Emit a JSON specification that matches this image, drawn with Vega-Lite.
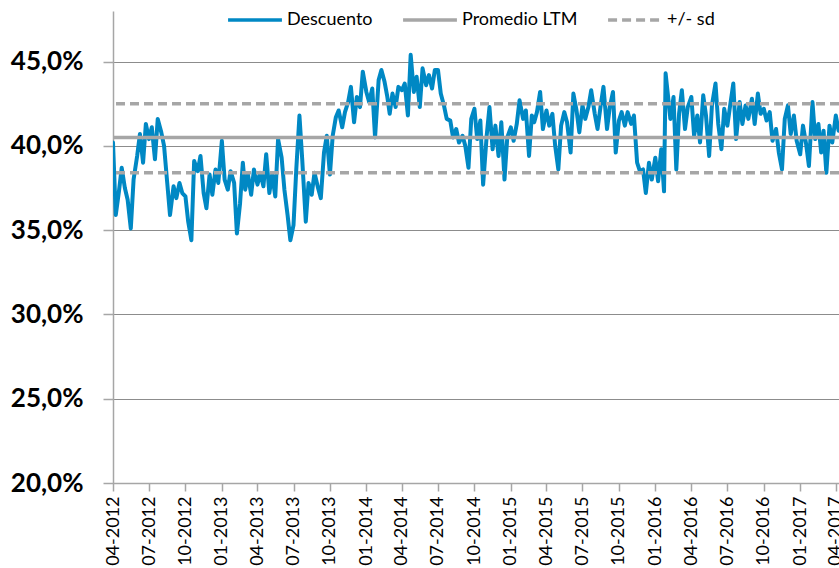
{
  "$schema": "https://vega.github.io/schema/vega-lite/v6.json",
  "width": 726,
  "height": 472,
  "autosize": {"type": "none"},
  "padding": {"left": 113, "top": 11, "right": 0, "bottom": 85},
  "background": "white",
  "datasets": {
    "desc": [
      {"d":"2012-04-01","v":40.2,"s":"Descuento"},{"d":"2012-04-08","v":35.9,"s":"Descuento"},{"d":"2012-04-16","v":37.3,"s":"Descuento"},{"d":"2012-04-23","v":38.7,"s":"Descuento"},
      {"d":"2012-05-01","v":37.5,"s":"Descuento"},{"d":"2012-05-08","v":36.8,"s":"Descuento"},{"d":"2012-05-16","v":35.1,"s":"Descuento"},{"d":"2012-05-23","v":38.0,"s":"Descuento"},
      {"d":"2012-06-01","v":39.4,"s":"Descuento"},{"d":"2012-06-08","v":40.7,"s":"Descuento"},{"d":"2012-06-16","v":39.0,"s":"Descuento"},{"d":"2012-06-23","v":41.3,"s":"Descuento"},
      {"d":"2012-07-01","v":40.4,"s":"Descuento"},{"d":"2012-07-08","v":41.1,"s":"Descuento"},{"d":"2012-07-16","v":39.2,"s":"Descuento"},{"d":"2012-07-23","v":41.6,"s":"Descuento"},
      {"d":"2012-08-01","v":40.8,"s":"Descuento"},{"d":"2012-08-08","v":40.0,"s":"Descuento"},{"d":"2012-08-16","v":37.8,"s":"Descuento"},{"d":"2012-08-23","v":35.9,"s":"Descuento"},
      {"d":"2012-09-01","v":37.6,"s":"Descuento"},{"d":"2012-09-08","v":36.9,"s":"Descuento"},{"d":"2012-09-16","v":37.8,"s":"Descuento"},{"d":"2012-09-23","v":37.2,"s":"Descuento"},
      {"d":"2012-10-01","v":37.0,"s":"Descuento"},{"d":"2012-10-08","v":35.5,"s":"Descuento"},{"d":"2012-10-16","v":34.4,"s":"Descuento"},{"d":"2012-10-23","v":39.1,"s":"Descuento"},
      {"d":"2012-11-01","v":38.5,"s":"Descuento"},{"d":"2012-11-08","v":39.4,"s":"Descuento"},{"d":"2012-11-16","v":37.2,"s":"Descuento"},{"d":"2012-11-23","v":36.3,"s":"Descuento"},
      {"d":"2012-12-01","v":38.3,"s":"Descuento"},{"d":"2012-12-08","v":37.1,"s":"Descuento"},{"d":"2012-12-16","v":38.6,"s":"Descuento"},{"d":"2012-12-23","v":37.8,"s":"Descuento"},
      {"d":"2013-01-01","v":40.3,"s":"Descuento"},{"d":"2013-01-08","v":38.0,"s":"Descuento"},{"d":"2013-01-16","v":37.4,"s":"Descuento"},{"d":"2013-01-23","v":38.5,"s":"Descuento"},
      {"d":"2013-02-01","v":37.8,"s":"Descuento"},{"d":"2013-02-08","v":34.8,"s":"Descuento"},{"d":"2013-02-16","v":36.6,"s":"Descuento"},{"d":"2013-02-23","v":39.0,"s":"Descuento"},
      {"d":"2013-03-01","v":37.4,"s":"Descuento"},{"d":"2013-03-08","v":38.3,"s":"Descuento"},{"d":"2013-03-16","v":37.1,"s":"Descuento"},{"d":"2013-03-23","v":38.6,"s":"Descuento"},
      {"d":"2013-04-01","v":37.7,"s":"Descuento"},{"d":"2013-04-08","v":38.4,"s":"Descuento"},{"d":"2013-04-16","v":37.6,"s":"Descuento"},{"d":"2013-04-23","v":39.5,"s":"Descuento"},
      {"d":"2013-05-01","v":37.2,"s":"Descuento"},{"d":"2013-05-08","v":38.3,"s":"Descuento"},{"d":"2013-05-16","v":37.0,"s":"Descuento"},{"d":"2013-05-23","v":40.4,"s":"Descuento"},
      {"d":"2013-06-01","v":39.3,"s":"Descuento"},{"d":"2013-06-08","v":37.4,"s":"Descuento"},{"d":"2013-06-16","v":35.9,"s":"Descuento"},{"d":"2013-06-23","v":34.4,"s":"Descuento"},
      {"d":"2013-07-01","v":35.3,"s":"Descuento"},{"d":"2013-07-08","v":38.6,"s":"Descuento"},{"d":"2013-07-16","v":41.8,"s":"Descuento"},{"d":"2013-07-23","v":39.2,"s":"Descuento"},
      {"d":"2013-08-01","v":35.5,"s":"Descuento"},{"d":"2013-08-08","v":37.8,"s":"Descuento"},{"d":"2013-08-16","v":37.1,"s":"Descuento"},{"d":"2013-08-23","v":38.4,"s":"Descuento"},
      {"d":"2013-09-01","v":37.5,"s":"Descuento"},{"d":"2013-09-08","v":36.9,"s":"Descuento"},{"d":"2013-09-16","v":39.6,"s":"Descuento"},{"d":"2013-09-23","v":40.6,"s":"Descuento"},
      {"d":"2013-10-01","v":38.3,"s":"Descuento"},{"d":"2013-10-08","v":40.6,"s":"Descuento"},{"d":"2013-10-16","v":41.7,"s":"Descuento"},{"d":"2013-10-23","v":42.1,"s":"Descuento"},
      {"d":"2013-11-01","v":41.1,"s":"Descuento"},{"d":"2013-11-08","v":42.0,"s":"Descuento"},{"d":"2013-11-16","v":42.6,"s":"Descuento"},{"d":"2013-11-23","v":43.5,"s":"Descuento"},
      {"d":"2013-12-01","v":41.4,"s":"Descuento"},{"d":"2013-12-08","v":42.9,"s":"Descuento"},{"d":"2013-12-16","v":42.3,"s":"Descuento"},{"d":"2013-12-23","v":44.4,"s":"Descuento"},
      {"d":"2014-01-01","v":43.2,"s":"Descuento"},{"d":"2014-01-08","v":42.6,"s":"Descuento"},{"d":"2014-01-16","v":43.4,"s":"Descuento"},{"d":"2014-01-23","v":40.5,"s":"Descuento"},
      {"d":"2014-02-01","v":43.9,"s":"Descuento"},{"d":"2014-02-08","v":44.5,"s":"Descuento"},{"d":"2014-02-16","v":43.8,"s":"Descuento"},{"d":"2014-02-23","v":42.9,"s":"Descuento"},
      {"d":"2014-03-01","v":41.9,"s":"Descuento"},{"d":"2014-03-08","v":43.1,"s":"Descuento"},{"d":"2014-03-16","v":42.3,"s":"Descuento"},{"d":"2014-03-23","v":43.5,"s":"Descuento"},
      {"d":"2014-04-01","v":43.3,"s":"Descuento"},{"d":"2014-04-08","v":43.7,"s":"Descuento"},{"d":"2014-04-16","v":41.8,"s":"Descuento"},{"d":"2014-04-23","v":45.4,"s":"Descuento"},
      {"d":"2014-05-01","v":43.2,"s":"Descuento"},{"d":"2014-05-08","v":44.1,"s":"Descuento"},{"d":"2014-05-16","v":42.3,"s":"Descuento"},{"d":"2014-05-23","v":44.6,"s":"Descuento"},
      {"d":"2014-06-01","v":43.6,"s":"Descuento"},{"d":"2014-06-08","v":44.2,"s":"Descuento"},{"d":"2014-06-16","v":43.4,"s":"Descuento"},{"d":"2014-06-23","v":44.5,"s":"Descuento"},
      {"d":"2014-07-01","v":44.5,"s":"Descuento"},{"d":"2014-07-08","v":43.1,"s":"Descuento"},{"d":"2014-07-16","v":42.4,"s":"Descuento"},{"d":"2014-07-23","v":41.6,"s":"Descuento"},
      {"d":"2014-08-01","v":41.5,"s":"Descuento"},{"d":"2014-08-08","v":40.5,"s":"Descuento"},{"d":"2014-08-16","v":41.0,"s":"Descuento"},{"d":"2014-08-23","v":40.2,"s":"Descuento"},
      {"d":"2014-09-01","v":40.6,"s":"Descuento"},{"d":"2014-09-08","v":40.0,"s":"Descuento"},{"d":"2014-09-16","v":38.7,"s":"Descuento"},{"d":"2014-09-23","v":41.6,"s":"Descuento"},
      {"d":"2014-10-01","v":42.2,"s":"Descuento"},{"d":"2014-10-08","v":40.4,"s":"Descuento"},{"d":"2014-10-16","v":41.5,"s":"Descuento"},{"d":"2014-10-23","v":37.7,"s":"Descuento"},
      {"d":"2014-11-01","v":40.6,"s":"Descuento"},{"d":"2014-11-08","v":42.3,"s":"Descuento"},{"d":"2014-11-16","v":39.8,"s":"Descuento"},{"d":"2014-11-23","v":41.2,"s":"Descuento"},
      {"d":"2014-12-01","v":39.4,"s":"Descuento"},{"d":"2014-12-08","v":41.4,"s":"Descuento"},{"d":"2014-12-16","v":38.0,"s":"Descuento"},{"d":"2014-12-23","v":40.5,"s":"Descuento"},
      {"d":"2015-01-01","v":41.1,"s":"Descuento"},{"d":"2015-01-08","v":40.3,"s":"Descuento"},{"d":"2015-01-16","v":41.3,"s":"Descuento"},{"d":"2015-01-23","v":42.7,"s":"Descuento"},
      {"d":"2015-02-01","v":41.6,"s":"Descuento"},{"d":"2015-02-08","v":42.1,"s":"Descuento"},{"d":"2015-02-16","v":39.4,"s":"Descuento"},{"d":"2015-02-23","v":41.8,"s":"Descuento"},
      {"d":"2015-03-01","v":41.4,"s":"Descuento"},{"d":"2015-03-08","v":42.0,"s":"Descuento"},{"d":"2015-03-16","v":43.2,"s":"Descuento"},{"d":"2015-03-23","v":41.0,"s":"Descuento"},
      {"d":"2015-04-01","v":42.1,"s":"Descuento"},{"d":"2015-04-08","v":41.2,"s":"Descuento"},{"d":"2015-04-16","v":41.9,"s":"Descuento"},{"d":"2015-04-23","v":40.0,"s":"Descuento"},
      {"d":"2015-05-01","v":38.6,"s":"Descuento"},{"d":"2015-05-08","v":41.2,"s":"Descuento"},{"d":"2015-05-16","v":42.0,"s":"Descuento"},{"d":"2015-05-23","v":41.4,"s":"Descuento"},
      {"d":"2015-06-01","v":39.6,"s":"Descuento"},{"d":"2015-06-08","v":43.1,"s":"Descuento"},{"d":"2015-06-16","v":42.1,"s":"Descuento"},{"d":"2015-06-23","v":40.8,"s":"Descuento"},
      {"d":"2015-07-01","v":42.4,"s":"Descuento"},{"d":"2015-07-08","v":41.6,"s":"Descuento"},{"d":"2015-07-16","v":42.3,"s":"Descuento"},{"d":"2015-07-23","v":43.3,"s":"Descuento"},
      {"d":"2015-08-01","v":41.9,"s":"Descuento"},{"d":"2015-08-08","v":41.0,"s":"Descuento"},{"d":"2015-08-16","v":42.4,"s":"Descuento"},{"d":"2015-08-23","v":43.5,"s":"Descuento"},
      {"d":"2015-09-01","v":41.0,"s":"Descuento"},{"d":"2015-09-08","v":42.3,"s":"Descuento"},{"d":"2015-09-16","v":43.2,"s":"Descuento"},{"d":"2015-09-23","v":39.6,"s":"Descuento"},
      {"d":"2015-10-01","v":41.5,"s":"Descuento"},{"d":"2015-10-08","v":42.0,"s":"Descuento"},{"d":"2015-10-16","v":41.2,"s":"Descuento"},{"d":"2015-10-23","v":42.0,"s":"Descuento"},
      {"d":"2015-11-01","v":41.3,"s":"Descuento"},{"d":"2015-11-08","v":41.8,"s":"Descuento"},{"d":"2015-11-16","v":39.0,"s":"Descuento"},{"d":"2015-11-23","v":38.5,"s":"Descuento"},
      {"d":"2015-12-01","v":38.6,"s":"Descuento"},{"d":"2015-12-08","v":37.2,"s":"Descuento"},{"d":"2015-12-16","v":39.0,"s":"Descuento"},{"d":"2015-12-23","v":38.0,"s":"Descuento"},
      {"d":"2016-01-01","v":39.3,"s":"Descuento"},{"d":"2016-01-08","v":37.9,"s":"Descuento"},{"d":"2016-01-16","v":39.8,"s":"Descuento"},{"d":"2016-01-23","v":37.3,"s":"Descuento"},{"d":"2016-01-27","v":44.3,"s":"Descuento"},
      {"d":"2016-02-01","v":43.2,"s":"Descuento"},{"d":"2016-02-08","v":41.6,"s":"Descuento"},{"d":"2016-02-16","v":42.9,"s":"Descuento"},{"d":"2016-02-23","v":38.6,"s":"Descuento"},
      {"d":"2016-03-01","v":41.9,"s":"Descuento"},{"d":"2016-03-08","v":43.3,"s":"Descuento"},{"d":"2016-03-16","v":41.0,"s":"Descuento"},{"d":"2016-03-23","v":42.3,"s":"Descuento"},
      {"d":"2016-04-01","v":42.9,"s":"Descuento"},{"d":"2016-04-08","v":40.6,"s":"Descuento"},{"d":"2016-04-16","v":41.8,"s":"Descuento"},{"d":"2016-04-23","v":40.2,"s":"Descuento"},
      {"d":"2016-05-01","v":43.0,"s":"Descuento"},{"d":"2016-05-08","v":41.8,"s":"Descuento"},{"d":"2016-05-16","v":39.4,"s":"Descuento"},{"d":"2016-05-23","v":42.4,"s":"Descuento"},
      {"d":"2016-06-01","v":43.7,"s":"Descuento"},{"d":"2016-06-08","v":41.3,"s":"Descuento"},{"d":"2016-06-16","v":39.8,"s":"Descuento"},{"d":"2016-06-23","v":42.2,"s":"Descuento"},
      {"d":"2016-07-01","v":41.2,"s":"Descuento"},{"d":"2016-07-08","v":42.4,"s":"Descuento"},{"d":"2016-07-16","v":43.7,"s":"Descuento"},{"d":"2016-07-23","v":40.4,"s":"Descuento"},
      {"d":"2016-08-01","v":42.6,"s":"Descuento"},{"d":"2016-08-08","v":41.3,"s":"Descuento"},{"d":"2016-08-16","v":42.4,"s":"Descuento"},{"d":"2016-08-23","v":41.6,"s":"Descuento"},
      {"d":"2016-09-01","v":42.8,"s":"Descuento"},{"d":"2016-09-08","v":41.3,"s":"Descuento"},{"d":"2016-09-16","v":43.1,"s":"Descuento"},{"d":"2016-09-23","v":41.9,"s":"Descuento"},
      {"d":"2016-10-01","v":42.2,"s":"Descuento"},{"d":"2016-10-08","v":41.5,"s":"Descuento"},{"d":"2016-10-16","v":42.0,"s":"Descuento"},{"d":"2016-10-23","v":40.3,"s":"Descuento"},
      {"d":"2016-11-01","v":41.0,"s":"Descuento"},{"d":"2016-11-08","v":39.6,"s":"Descuento"},{"d":"2016-11-16","v":38.6,"s":"Descuento"},{"d":"2016-11-23","v":41.6,"s":"Descuento"},
      {"d":"2016-12-01","v":42.4,"s":"Descuento"},{"d":"2016-12-08","v":40.7,"s":"Descuento"},{"d":"2016-12-16","v":41.8,"s":"Descuento"},{"d":"2016-12-23","v":40.3,"s":"Descuento"},
      {"d":"2017-01-01","v":39.5,"s":"Descuento"},{"d":"2017-01-08","v":41.2,"s":"Descuento"},{"d":"2017-01-16","v":40.1,"s":"Descuento"},{"d":"2017-01-23","v":38.8,"s":"Descuento"},
      {"d":"2017-02-01","v":42.6,"s":"Descuento"},{"d":"2017-02-08","v":40.4,"s":"Descuento"},{"d":"2017-02-16","v":41.3,"s":"Descuento"},{"d":"2017-02-23","v":39.6,"s":"Descuento"},
      {"d":"2017-03-01","v":40.9,"s":"Descuento"},{"d":"2017-03-08","v":38.4,"s":"Descuento"},{"d":"2017-03-16","v":41.2,"s":"Descuento"},{"d":"2017-03-23","v":40.2,"s":"Descuento"},
      {"d":"2017-04-01","v":41.8,"s":"Descuento"},{"d":"2017-04-08","v":40.9,"s":"Descuento"}
    ],
    "ref": [
      {"s":"Promedio LTM","v":40.5},
      {"s":"+/- sd","v":42.5},
      {"s":"+/- sd","v":38.4}
    ]
  },
  "layer": [
    {
      "data": {"name": "desc"},
      "mark": {"type": "line", "strokeWidth": 4, "strokeJoin": "round", "strokeCap": "round", "clip": true},
      "encoding": {
        "x": {
          "field": "d", "type": "temporal",
          "scale": {"type": "utc", "domain": [{"year": 2012, "month": 4, "date": 1, "utc": true}, {"year": 2017, "month": 4, "date": 9, "utc": true}]},
          "axis": {"title": null, "labelExpr": "utcFormat(datum.value, '%m-%Y')", "tickCount": {"interval": "month", "step": 3}, "labelAngle": -90, "labelFontSize": 18, "labelPadding": 5, "tickSize": 8, "grid": false, "labelOverlap": false, "labelBound": false}
        },
        "y": {
          "field": "v", "type": "quantitative",
          "scale": {"domain": [20, 48], "nice": false, "zero": false},
          "axis": {"title": null, "values": [20, 25, 30, 35, 40, 45], "labelExpr": "replace(format(datum.value, '.1f'), '.', ',') + '%'", "labelFontSize": 26, "labelFontWeight": "bold", "tickSize": 10, "labelPadding": 20, "grid": true}
        },
        "color": {
          "field": "s", "type": "nominal",
          "scale": {"domain": ["Descuento", "Promedio LTM", "+/- sd"], "range": ["#0088C4", "#A6A6A6", "#A6A6A6"]},
          "legend": {"title": null, "orient": "none", "direction": "horizontal", "legendX": 113, "legendY": -20}
        }
      }
    },
    {
      "data": {"name": "ref"},
      "mark": {"type": "rule", "strokeWidth": 3.5},
      "encoding": {
        "y": {"field": "v", "type": "quantitative"},
        "color": {"field": "s", "type": "nominal"},
        "strokeDash": {
          "field": "s", "type": "nominal",
          "scale": {"domain": ["Descuento", "Promedio LTM", "+/- sd"], "range": [[1, 0], [1, 0], [9, 5]]},
          "legend": {"title": null, "orient": "none", "direction": "horizontal", "legendX": 113, "legendY": -20}
        }
      }
    }
  ],
  "config": {
    "font": "Lato",
    "view": {"stroke": null},
    "axis": {
      "domainColor": "#A6A6A6", "domainWidth": 1.5, "tickColor": "#A6A6A6", "tickWidth": 1.5,
      "gridColor": "#8C8C8C", "gridWidth": 1, "labelColor": "#000000", "labelFont": "Lato"
    },
    "legend": {
      "symbolType": "stroke", "symbolSize": 2900, "symbolStrokeWidth": 3.5, "labelFontSize": 18, "labelColor": "#000000",
      "labelOffset": 3, "columnPadding": 23, "padding": 0, "labelFont": "Lato"
    }
  }
}
